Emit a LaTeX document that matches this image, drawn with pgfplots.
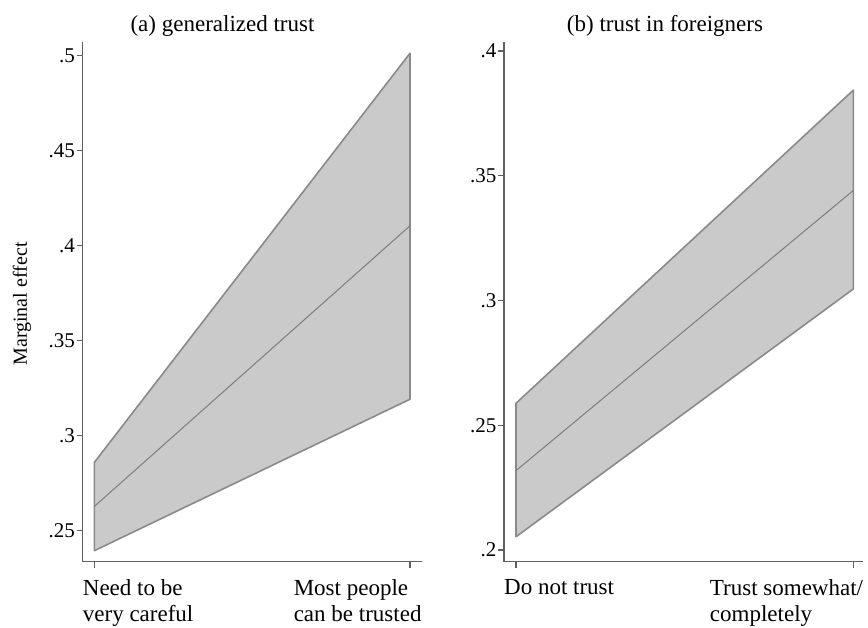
\documentclass[border=0pt]{standalone}
\usepackage{fontspec}
\setmainfont{Liberation Serif}
\usepackage{pgfplots}
\pgfplotsset{compat=1.18}

\definecolor{bandfill}{RGB}{202,202,202}
\definecolor{bandedge}{RGB}{138,138,138}
\definecolor{midline}{RGB}{125,125,125}
\definecolor{axisgray}{RGB}{95,95,95}

\pgfplotsset{
  panel/.style={
    scale only axis, anchor=south west,
    height=519.7pt,
    axis x line*=bottom, axis y line*=left,
    axis line style={axisgray, line width=1.3pt, -},
    every outer x axis line/.append style={-},
    every outer y axis line/.append style={-},
    tick style={axisgray, line width=1.1pt},
    tick align=outside, major tick length=6pt,
    xtick={0,1}, xticklabels={},
    yticklabel style={font=\fontsize{21}{24}\selectfont, inner sep=1.5pt},
    clip=false,
  },
  band/.style={fill=bandfill, draw=bandedge, line width=1.6pt, line join=round},
  mid/.style={draw=midline, line width=1pt},
}
\tikzset{
  catlabel/.style={align=left, inner sep=0pt, font=\fontsize{23}{25.5}\selectfont, yshift=-18pt},
}

\begin{document}
\begin{tikzpicture}
\path[use as bounding box] (0pt,0pt) rectangle (868pt,-628pt);

% panel (a): generalized trust
\begin{axis}[panel, at={(82.7pt,-561.7pt)}, width=339pt,
    xmin=-0.037, xmax=1.037, ymin=0.2337, ymax=0.5072,
    ytick={0.25,0.3,0.35,0.4,0.45,0.5},
    yticklabels={.25,.3,.35,.4,.45,.5}]
  \addplot[band] coordinates {(0,0.2395) (1,0.3192) (1,0.5013) (0,0.2860)} -- cycle;
  \addplot[mid] coordinates {(0,0.2628) (1,0.4105)};
  \node[catlabel, anchor=north west] at (rel axis cs:0,0) {Need to be\\very careful};
  \node[catlabel, anchor=north east] at (rel axis cs:1,0) {Most people\\can be trusted};
\end{axis}

% panel (b): trust in foreigners
\begin{axis}[panel, at={(504pt,-561.7pt)}, width=359.3pt,
    xmin=-0.0356, xmax=1.0296, ymin=0.1953, ymax=0.4036,
    ytick={0.2,0.25,0.3,0.35,0.4},
    yticklabels={.2,.25,.3,.35,.4}]
  \addplot[band] coordinates {(0,0.2053) (1,0.3046) (1,0.3843) (0,0.2588)} -- cycle;
  \addplot[mid] coordinates {(0,0.2318) (1,0.3441)};
  \node[catlabel, anchor=north west] at (rel axis cs:0,0) {Do not trust};
  \node[catlabel, anchor=north east] at (rel axis cs:1,0) {Trust somewhat/\\completely};
\end{axis}

% panel titles and the shared y-axis title
\node[anchor=base, font=\fontsize{23}{27}\selectfont] at (222.5pt,-31.5pt) {(a) generalized trust};
\node[anchor=base, font=\fontsize{23}{27}\selectfont] at (665pt,-31.5pt) {(b) trust in foreigners};
\node[rotate=90, anchor=base, font=\fontsize{20}{24}\selectfont] at (27pt,-304pt) {Marginal effect};
\end{tikzpicture}
\end{document}
